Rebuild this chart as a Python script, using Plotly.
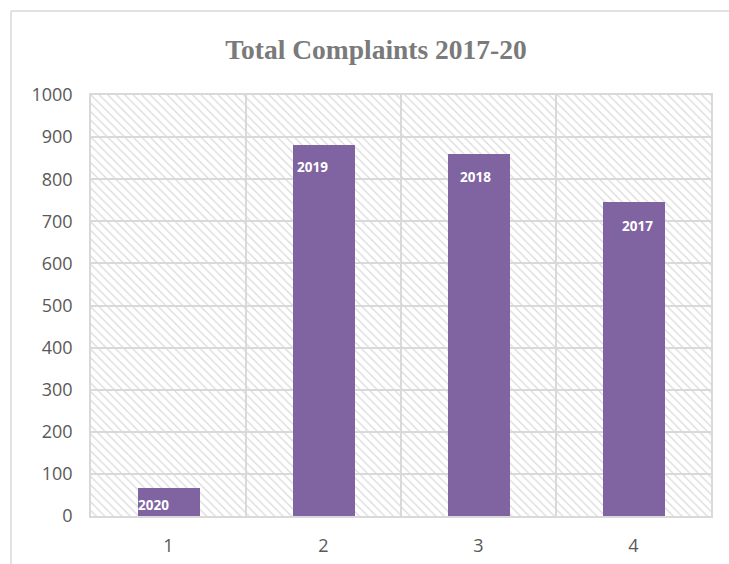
import plotly.graph_objects as go

categories = [1, 2, 3, 4]
complaints = [66, 881, 860, 747]
bar_labels = ["2020", "2019", "2018", "2017"]
y_ticks = [0, 100, 200, 300, 400, 500, 600, 700, 800, 900, 1000]
y_max = 1000

# style: horizontal label offsets (category units) and vertical shift (px)
label_dx = [-0.094, -0.074, -0.02, 0.026]
label_dy = [-17, -22, -23, -24]

W, H = 729, 564
L, R, T, B = 91, 18, 95, 48
pw, ph = W - L - R, H - T - B

fig = go.Figure()

# hatched plot-area background
fig.add_trace(go.Bar(
    x=[(categories[0] + categories[-1]) / 2], y=[y_max], width=len(categories),
    marker=dict(color="rgba(0,0,0,0)", line=dict(width=0),
                pattern=dict(shape="\\", fgcolor="#d9d9d9", bgcolor="rgba(255,255,255,0)",
                             size=6, solidity=0.2, fgopacity=1)),
    hoverinfo="skip", showlegend=False))

fig.add_trace(go.Bar(
    x=categories, y=complaints, width=0.4,
    marker=dict(color="#8064A2", line=dict(width=0)),
    showlegend=False))

for c, v, t, dx, dy in zip(categories, complaints, bar_labels, label_dx, label_dy):
    fig.add_annotation(x=c + dx, y=v, text="<b>%s</b>" % t, showarrow=False,
                       yshift=dy, font=dict(family="Open Sans", size=13.5, color="white"))

# outer chart frame (cut off at right and bottom)
fx = (11 - L) / pw
fy = (H - B - 11) / ph
fig.add_shape(type="line", xref="paper", yref="paper", x0=fx, y0=fy, x1=1.2, y1=fy,
              line=dict(color="#d9d9d9", width=1.5))
fig.add_shape(type="line", xref="paper", yref="paper", x0=fx, y0=fy, x1=fx, y1=-0.3,
              line=dict(color="#d9d9d9", width=1.5))

fig.update_layout(
    width=W, height=H,
    margin=dict(l=L, r=R, t=T, b=B),
    paper_bgcolor="white", plot_bgcolor="white",
    barmode="overlay", bargap=0,
    title=dict(text="<b>Total Complaints 2017-20</b>", x=(376 - L) / pw, xref="paper",
               xanchor="center", y=1 - 49 / H, yref="container", yanchor="middle",
               font=dict(family="Liberation Serif", size=27.5, color="#7a7a7a")),
    xaxis=dict(range=[0.5, 4.5], tickvals=categories, ticktext=[str(c) for c in categories],
               showgrid=False, zeroline=False, automargin=False,
               minor=dict(tickvals=[0.5, 1.5, 2.5, 3.5, 4.5], showgrid=True,
                          gridcolor="#d9d9d9", gridwidth=1.5, ticks=""),
               showline=True, linecolor="#d9d9d9", linewidth=1.5, mirror=True,
               ticks="", ticklabelstandoff=13,
               tickfont=dict(family="Open Sans", size=18, color="#595959")),
    yaxis=dict(range=[0, y_max], tickvals=y_ticks, showgrid=True, gridcolor="#d9d9d9",
               gridwidth=1.5, zeroline=False, automargin=False,
               showline=True, linecolor="#d9d9d9", linewidth=1.5, mirror=True,
               ticks="", ticklabelstandoff=13,
               tickfont=dict(family="Open Sans", size=18, color="#595959")),
)

fig.write_html("out.html", config={"displayModeBar": False},
               post_script="document.body.style.margin='0';")
